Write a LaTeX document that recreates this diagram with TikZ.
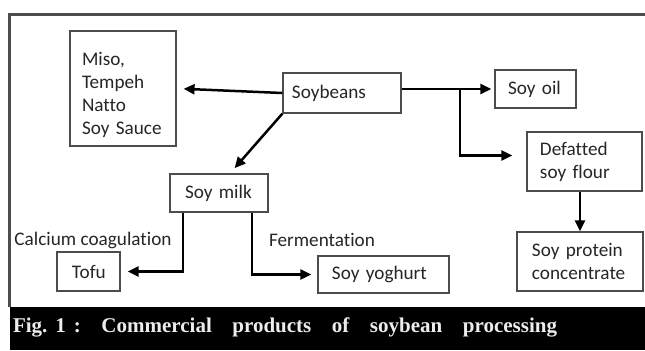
\documentclass[tikz,border=0pt]{standalone}
\usepackage{fontspec}
\setsansfont[Ligatures=NoCommon]{Carlito}
\newfontfamily\capfont{Liberation Serif}
\usepackage{tikz}
\usetikzlibrary{calc}
\usetikzlibrary{arrows.meta}

\begin{document}
\begin{tikzpicture}[x=0.5pt, y=-0.5pt,
	box/.style={draw=black!70, line width=0.6pt, align=left, inner sep=0pt, text=black!85,
		text width=#1, font=\sffamily\fontsize{9.6}{11.5}\selectfont},
	lead/.style={execute at begin node={\leftskip=#1\relax}},
	lbl/.style={inner sep=0pt, text=black!85, font=\sffamily\fontsize{9.6}{11.5}\selectfont},
	flow/.style={line width=1.25pt, -{Triangle[length=5.5pt,width=5pt]}}]

	\useasboundingbox (0,0) rectangle (645,350);
	\fill[white] (0,0) rectangle (645,350);
	\fill[black] (10,307) rectangle (645,350);
	\draw[black!70, line width=1.5pt] (645,14) -- (10,14) -- (10,307);

	\node[box=53pt, lead=6pt, text height=13.5pt, minimum height=57.5pt] (miso) at (123,88.5) {Miso,\\Tempeh\\Natto\\Soy Sauce};
	\node[box=59pt, lead=4.5pt, minimum height=20pt] (soybeans) at (342,93) {Soybeans};
	\node[box=40.5pt, lead=6.5pt, minimum height=19pt] (soyoil) at (535.5,89) {Soy oil};
	\node[box=57.5pt, lead=6.5pt, minimum height=29.5pt] (defatted) at (584.5,161.5) {Defatted\\soy flour};
	\node[box=49pt, lead=7.5pt, minimum height=19pt] (soymilk) at (219,193) {Soy milk};
	\node[box=31.5pt, lead=7.5pt, minimum height=19.5pt] (tofu) at (88.5,271.5) {Tofu};
	\node[box=65.5pt, lead=7pt, minimum height=18.5pt] (yoghurt) at (383.5,274.5) {Soy yoghurt};
	\node[box=63pt, lead=7.5pt, minimum height=29.5pt] (protein) at (580,261.5) {Soy protein\\concentrate};

	\node[lbl] (calcium) at (93,240) {Calcium coagulation};
	\node[lbl] (ferment) at (322,240) {Fermentation};

	\coordinate (split) at (460,89);

	\draw[flow, shorten >=3.5pt] (soybeans.west) -- (miso.east);
	\draw[flow, shorten >=3.5pt] (soybeans.south west) -- ($(soymilk.north)+(11,0)$);
	\draw[flow, shorten >=1.5pt] (soybeans.east |- soyoil) -- (soyoil.west);
	\draw[flow, shorten >=7pt] (split) |- ($(defatted.west)+(0,-6)$);
	\draw[flow] (defatted.south -| protein) -- (protein.north);
	\draw[flow, shorten >=3.5pt] ($(soymilk.south)+(-36,0)$) |- (tofu.east);
	\draw[flow, shorten >=3pt] ($(soymilk.south)+(33,0)$) |- (yoghurt.west);

	\node[inner sep=0pt, text=white!85!gray, font=\capfont\bfseries\fontsize{10.5}{12}\selectfont] (caption) at (285,327)
		{\hbox to 272pt{Fig.\hspace{4pt}1\hspace{4pt}:\hfill Commercial\hfill products\hfill of\hfill soybean\hfill processing}};

\end{tikzpicture}
\end{document}
